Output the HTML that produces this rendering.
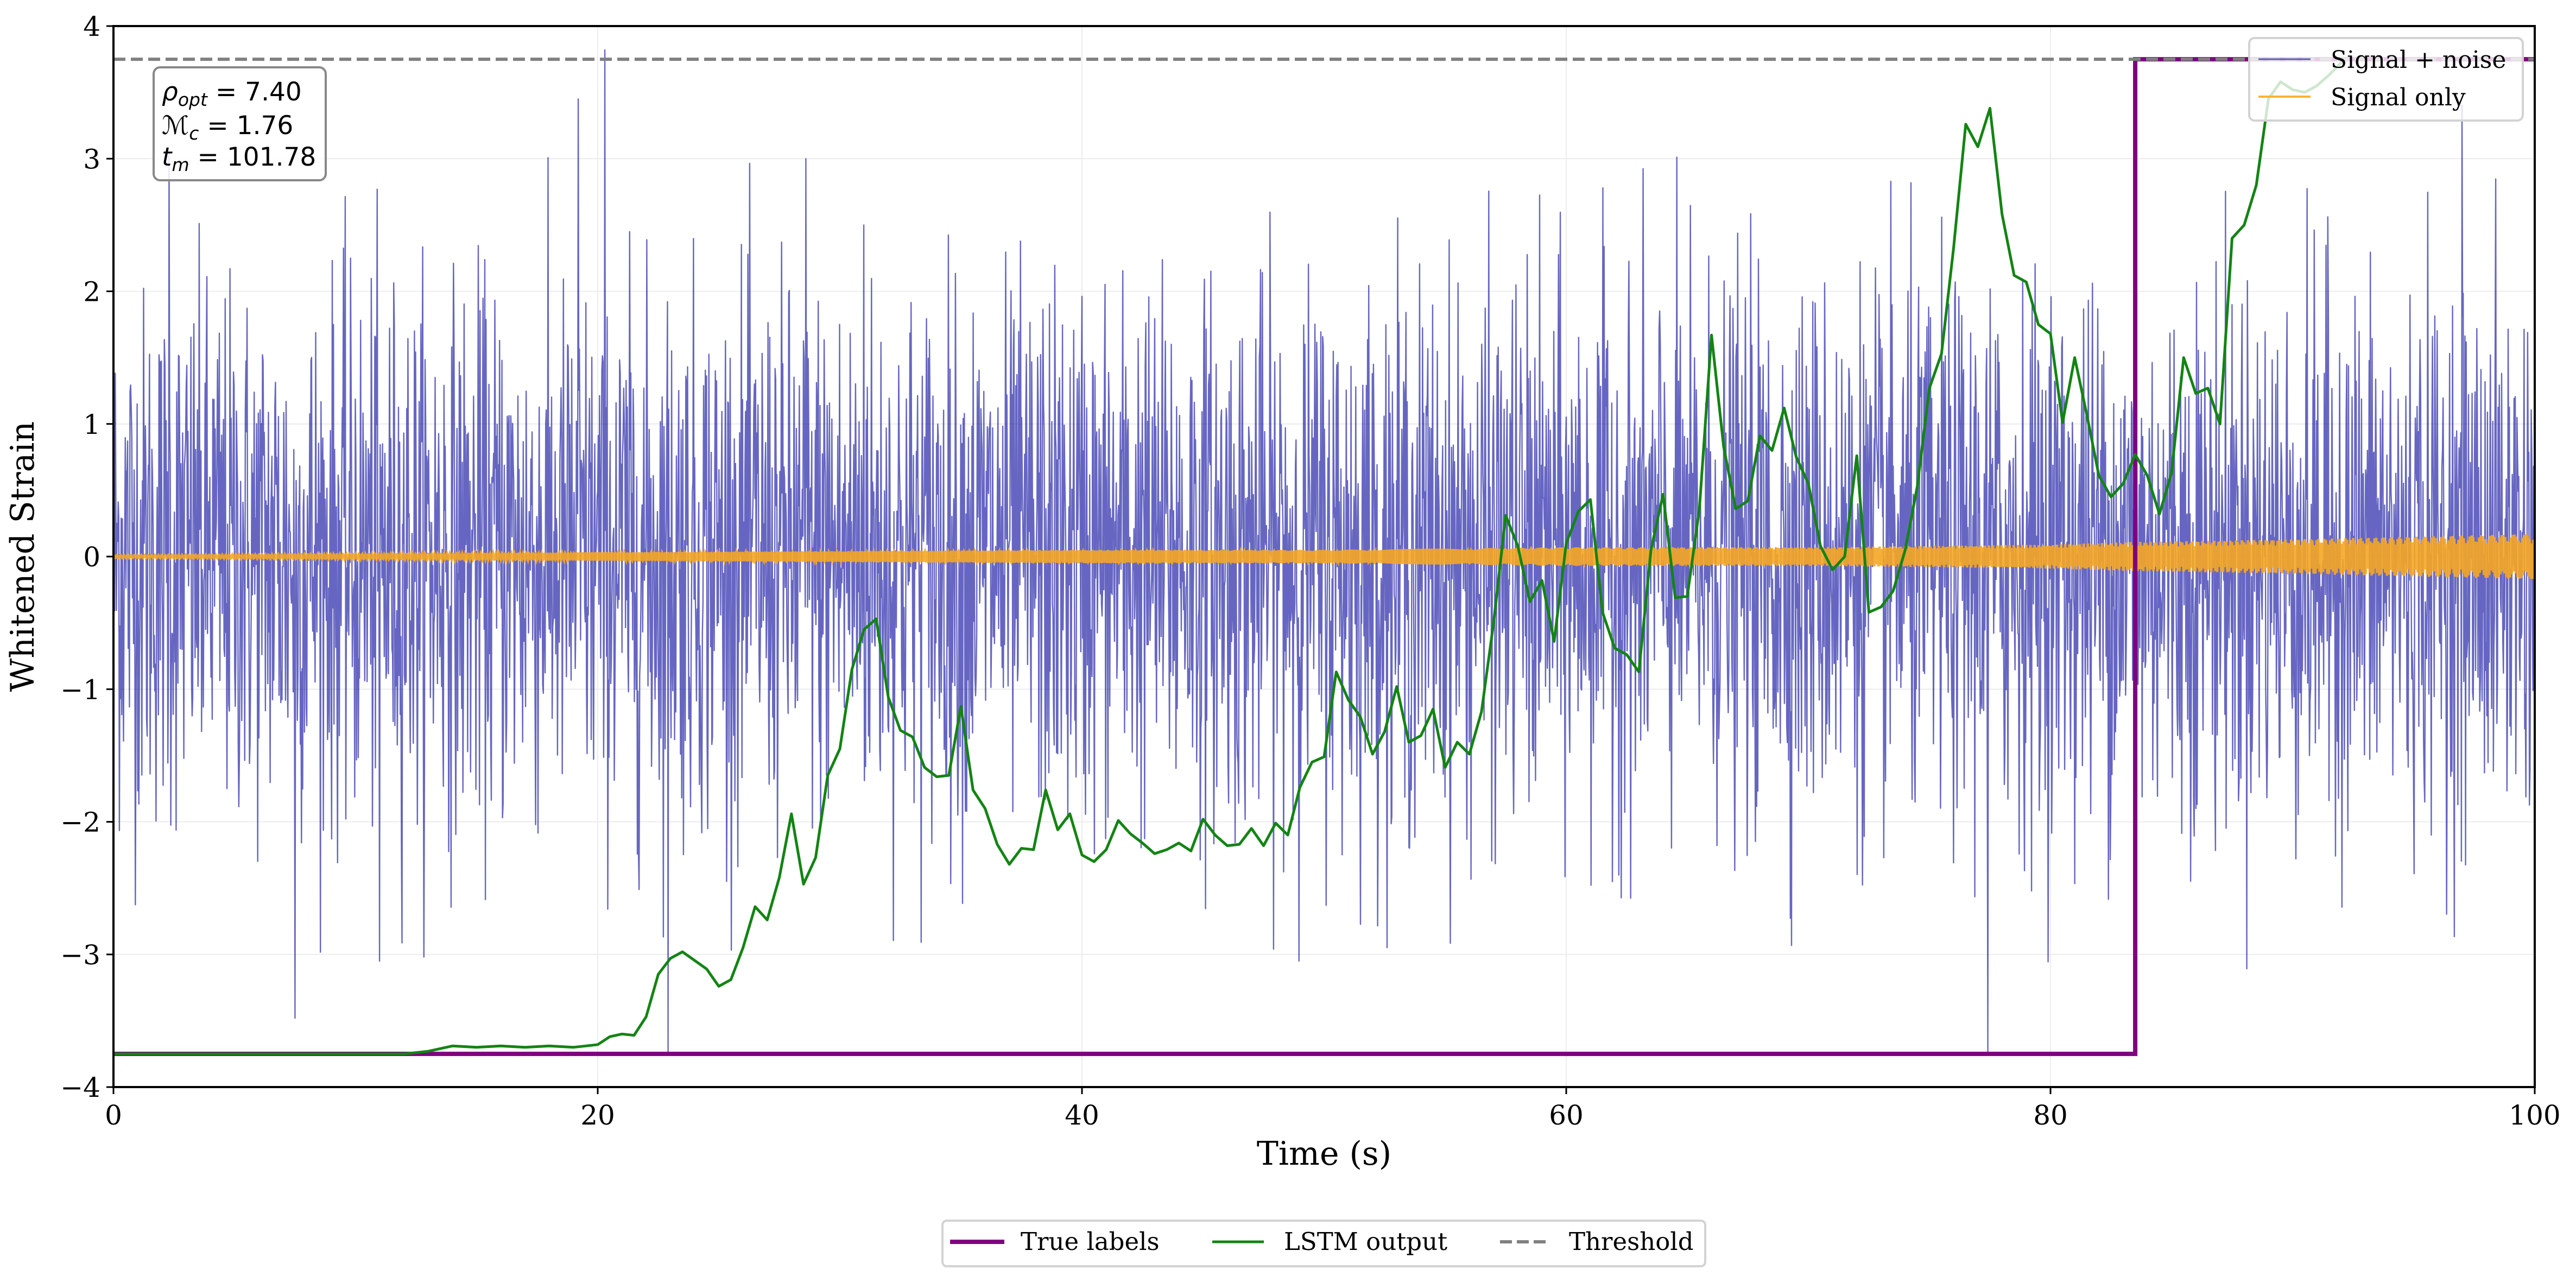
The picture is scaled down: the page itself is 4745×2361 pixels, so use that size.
<!DOCTYPE html>
<html><head><meta charset="utf-8">
<style>
html,body{margin:0;padding:0;background:#fff;}
svg{display:block;}
text{font-family:"DejaVu Serif","Liberation Serif",serif;fill:#000;}
.sans{font-family:"DejaVu Sans","Liberation Sans",sans-serif;}
</style></head>
<body>
<svg id="chart" width="4745" height="2361" viewBox="0 0 4745 2361" xmlns="http://www.w3.org/2000/svg">
  <rect x="0" y="0" width="4745" height="2361" fill="#fff"/>
  <g id="grid"></g>
  <clipPath id="plotclip"><rect x="209" y="48" width="4460" height="1954"/></clipPath>
  <g id="series" clip-path="url(#plotclip)"></g>
  <rect x="209" y="48" width="4460" height="1954" fill="none" stroke="#000" stroke-width="4"/>
  <g id="xticks"></g>
  <g id="yticks"></g>
  <text x="2439" y="2145" font-size="60" text-anchor="middle">Time (s)</text>
  <text transform="translate(62,1025) rotate(-90)" font-size="60" text-anchor="middle">Whitened Strain</text>

  <g>
    <rect x="283" y="124" width="317" height="208" rx="12" fill="#fff" fill-opacity="0.85" stroke="#888" stroke-width="4"/>
    <text class="sans" x="298" y="185" font-size="47"><tspan font-style="italic">ρ</tspan><tspan font-style="italic" font-size="33" dy="10">opt</tspan><tspan dy="-10"> = 7.40</tspan></text>
    <text class="sans" x="298" y="247" font-size="47"><tspan font-style="italic">ℳ</tspan><tspan font-style="italic" font-size="33" dy="10">c</tspan><tspan dy="-10"> = 1.76</tspan></text>
    <text class="sans" x="298" y="305" font-size="47"><tspan font-style="italic">t</tspan><tspan font-style="italic" font-size="33" dy="10">m</tspan><tspan dy="-10"> = 101.78</tspan></text>
  </g>

  <g>
    <rect x="4143" y="70" width="504" height="152" rx="10" fill="#fff" fill-opacity="0.8" stroke="#d3d3d3" stroke-width="4"/>
    <g>
      <line x1="4160" y1="109" x2="4256" y2="109" stroke="#5b5bb8" stroke-width="3"/>
      <text x="4293" y="125" font-size="44">Signal + noise</text>
    </g>
    <g>
      <line x1="4160" y1="178" x2="4256" y2="178" stroke="#fbb331" stroke-width="4"/>
      <text x="4293" y="194" font-size="44">Signal only</text>
    </g>
  </g>

  <g>
    <rect x="1736" y="2248" width="1405" height="84" rx="8" fill="#fff" stroke="#d3d3d3" stroke-width="4"/>
    <g>
      <line x1="1750" y1="2287" x2="1850" y2="2287" stroke="#800080" stroke-width="8"/>
      <text x="1880" y="2302" font-size="45">True labels</text>
    </g>
    <g>
      <line x1="2233" y1="2287" x2="2328" y2="2287" stroke="#138413" stroke-width="5"/>
      <text x="2365" y="2302" font-size="45">LSTM output</text>
    </g>
    <g>
      <line x1="2763" y1="2287" x2="2855" y2="2287" stroke="#808080" stroke-width="6" stroke-dasharray="22,9"/>
      <text x="2890" y="2302" font-size="45">Threshold</text>
    </g>
  </g>
</svg>
<script>
// ---- data ----
const xTicks = [0, 20, 40, 60, 80, 100];
const yTicks = [-4, -3, -2, -1, 0, 1, 2, 3, 4];
const thresholdValue = 3.75;
const labelLow = -3.75;
const labelHigh = 3.75;
const labelStepTime = 83.5;
const lstmTimes = [0,2,4,6,8,10,12,13,14,15,16,17,18,19,19.5,20,20.5,21,21.5,22,22.5,23,23.5,24.5,25,25.5,26,26.5,27,27.5,28,28.5,29,29.5,30,30.5,31,31.5,32,32.5,33,33.5,34,34.5,35,35.5,36,36.5,37,37.5,38,38.5,39,39.5,40,40.5,41,41.5,42,42.5,43,43.5,44,44.5,45,45.5,46,46.5,47,47.5,48,48.5,49,49.5,50,50.5,51,51.5,52,52.5,53,53.5,54,54.5,55,55.5,56,56.5,57,57.5,58,58.5,59,59.5,60,60.5,61,61.5,62,62.5,63,63.5,64,64.5,65,65.5,66,66.5,67,67.5,68,68.5,69,69.5,70,70.5,71,71.5,72,72.5,73,73.5,74,74.5,75,75.5,76,76.5,77,77.5,78,78.5,79,79.5,80,80.5,81,81.5,82,82.5,83,83.5,84,84.5,85,85.5,86,86.5,87,87.5,88,88.5,89,89.5,90,90.5,91,91.5,92.2];
const lstmValues = [-3.75,-3.75,-3.75,-3.75,-3.75,-3.75,-3.75,-3.73,-3.69,-3.70,-3.69,-3.70,-3.69,-3.70,-3.69,-3.68,-3.62,-3.60,-3.61,-3.47,-3.15,-3.03,-2.98,-3.11,-3.24,-3.19,-2.95,-2.64,-2.74,-2.42,-1.94,-2.47,-2.27,-1.65,-1.45,-0.85,-0.55,-0.47,-1.06,-1.31,-1.36,-1.59,-1.66,-1.65,-1.13,-1.76,-1.90,-2.17,-2.32,-2.20,-2.21,-1.76,-2.06,-1.94,-2.25,-2.30,-2.21,-1.99,-2.09,-2.16,-2.24,-2.21,-2.16,-2.22,-1.98,-2.10,-2.18,-2.17,-2.05,-2.18,-2.01,-2.10,-1.74,-1.55,-1.51,-0.87,-1.08,-1.21,-1.49,-1.32,-0.98,-1.40,-1.35,-1.15,-1.59,-1.40,-1.49,-1.17,-0.50,0.31,0.08,-0.34,-0.18,-0.64,0.10,0.34,0.43,-0.42,-0.69,-0.74,-0.87,0.05,0.47,-0.31,-0.30,0.36,1.67,0.83,0.36,0.42,0.91,0.80,1.12,0.75,0.55,0.08,-0.10,0.0,0.76,-0.42,-0.38,-0.26,0.05,0.53,1.27,1.53,2.33,3.26,3.09,3.38,2.58,2.12,2.07,1.75,1.68,1.01,1.50,1.07,0.61,0.45,0.55,0.77,0.61,0.32,0.63,1.50,1.23,1.27,1.00,2.40,2.50,2.80,3.45,3.58,3.52,3.50,3.55,3.63,3.76];
const envTimes = [0,10,20,30,40,50,55,60,70,80,83.5,90,95,100];
const envAmps = [0.01,0.02,0.03,0.04,0.05,0.05,0.06,0.07,0.07,0.09,0.11,0.13,0.15,0.17];
const spikeTimes = [2.3,7.5,11.0,19.2,20.3,22.9,28.6,31.0,77.4,97.0];
const spikeValues = [3.05,-3.48,-3.05,3.45,3.82,-3.75,3.0,2.5,-3.75,3.4];
const noiseStd = 1.0;
const sampleCount = 4096;
const duration = 100;

// ---- axes ----
const X0 = 209, X1 = 4669, Y0 = 2002, Y1 = 48;
const xScale = v => X0 + (v - 0) / 100 * (X1 - X0);
const yScale = v => Y0 - (v + 4) / 8 * (Y0 - Y1);
const NS = 'http://www.w3.org/2000/svg';
function mk(tag, attrs, parent){ const e = document.createElementNS(NS, tag); for (const k in attrs) e.setAttribute(k, attrs[k]); parent.appendChild(e); return e; }
const grid = document.getElementById('grid');
const xt = document.getElementById('xticks');
const yt = document.getElementById('yticks');
const series = document.getElementById('series');

xTicks.forEach(v => {
  const x = xScale(v);
  const g = mk('line', {x1:x, y1:Y1, x2:x, y2:Y0, stroke:'#ececec', 'stroke-width':2}, grid);
  
  
  const t = mk('line', {x1:x, y1:Y0, x2:x, y2:Y0+13, stroke:'#000', 'stroke-width':3}, xt);
  
  
  const lb = mk('text', {x:x, y:2071, 'font-size':50, 'text-anchor':'middle'}, xt);
  lb.textContent = String(v);
  
  
});
yTicks.forEach(v => {
  const y = yScale(v);
  const g = mk('line', {x1:X0, y1:y, x2:X1, y2:y, stroke:'#ececec', 'stroke-width':2}, grid);
  
  
  const t = mk('line', {x1:X0-13, y1:y, x2:X0, y2:y, stroke:'#000', 'stroke-width':3}, yt);
  
  
  const lb = mk('text', {x:185, y:y+18, 'font-size':50, 'text-anchor':'end'}, yt);
  lb.textContent = v < 0 ? '\u2212' + Math.abs(v) : String(v);
  
  
});

// ---- signal envelope / noise texture ----
function interp(xs, ys, x){
  if (x <= xs[0]) return ys[0];
  for (let i = 1; i < xs.length; i++) if (x <= xs[i]) { const f = (x - xs[i-1]) / (xs[i] - xs[i-1]); return ys[i-1] + f * (ys[i] - ys[i-1]); }
  return ys[ys.length-1];
}
let seed = 12345;
function rnd(){ seed = (seed * 1103515245 + 12345) % 2147483648; return seed / 2147483648; }
function gauss(){ const u = Math.max(rnd(), 1e-9), v = rnd(); return Math.sqrt(-2*Math.log(u)) * Math.cos(2*Math.PI*v); }
const sig = [], noisy = [];
let phase = 0;
for (let i = 0; i < sampleCount; i++) {
  const t = i / (sampleCount - 1) * duration;
  const f = 7 + 6 * t / duration;
  phase += 2 * Math.PI * f * (duration / sampleCount);
  const s = interp(envTimes, envAmps, t) * Math.sin(phase);
  sig.push([t, s]);
  let n = gauss() * noiseStd;
  if (n > 3.0) n = 3.0; if (n < -3.0) n = -3.0;
  noisy.push([t, s + n]);
}
spikeTimes.forEach((t, k) => {
  const i = Math.round(t / duration * (sampleCount - 1));
  noisy[i][1] = spikeValues[k];
});
const pts = arr => arr.map(p => xScale(p[0]).toFixed(1) + ',' + yScale(p[1]).toFixed(1)).join(' ');

const noiseLine = mk('polyline', {points: pts(noisy), fill:'none', stroke:'#00009a', 'stroke-opacity':0.6, 'stroke-width':2.4, 'stroke-linejoin':'round'}, series);



const sigLine = mk('polyline', {points: pts(sig), fill:'none', stroke:'#f5a623', 'stroke-opacity':0.9, 'stroke-width':4.5}, series);



const trueLine = mk('polyline', {points: pts([[0,labelLow],[labelStepTime,labelLow],[labelStepTime,labelHigh],[100,labelHigh]]), fill:'none', stroke:'#800080', 'stroke-width':8}, series);



const lstm = lstmTimes.map((t, i) => [t, lstmValues[i]]);
const lstmLine = mk('polyline', {points: pts(lstm), fill:'none', stroke:'#138413', 'stroke-width':5, 'stroke-linejoin':'round'}, series);



const thr = mk('line', {x1:X0, y1:yScale(thresholdValue), x2:X1, y2:yScale(thresholdValue), stroke:'#808080', 'stroke-width':6, 'stroke-dasharray':'22,10'}, series);


</script>
</body></html>
